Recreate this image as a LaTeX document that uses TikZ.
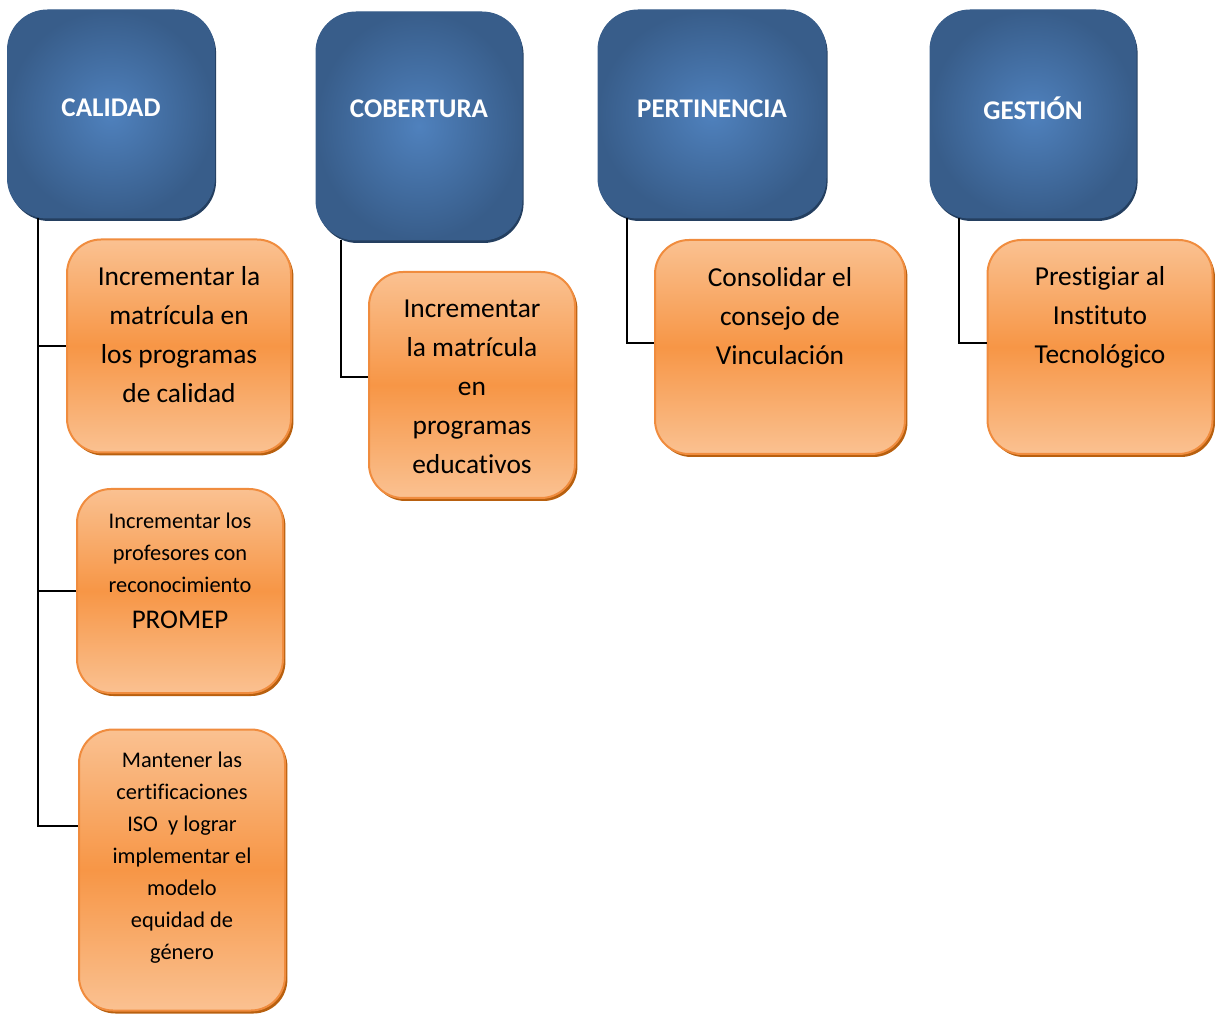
\documentclass[tikz,border=0pt]{standalone}
\usepackage{fontspec}
\setmainfont{Carlito}[Ligatures=NoCommon]
\usepackage{tikz}
\usetikzlibrary{shadows}

\definecolor{metain}{HTML}{4F81BD}
\definecolor{metaout}{HTML}{385D8A}
\definecolor{metashadow}{HTML}{243F60}
\definecolor{acclight}{HTML}{FAC191}
\definecolor{accmid}{HTML}{F79646}
\definecolor{accedge}{HTML}{F08C3E}
\definecolor{accshadow}{HTML}{B8600F}

\tikzset{
	meta/.style={rounded corners=20pt, draw=metaout, line width=.5pt, inner sep=0pt,
		shading=radial, inner color=metain, outer color=metaout,
		drop shadow={shadow xshift=.8pt, shadow yshift=-1.5pt, fill=metashadow, opacity=1}},
	accion/.style={rounded corners=17pt, draw=accedge, line width=1pt, inner sep=0pt,
		top color=acclight, bottom color=acclight, middle color=accmid,
		drop shadow={shadow xshift=1.2pt, shadow yshift=-1.5pt, fill=accshadow, opacity=1}},
	metatxt/.style={text=white, font=\bfseries\fontsize{13.5}{16}\selectfont},
	acctxt/.style={align=center, font=\fontsize{13.7}{19.5}\selectfont},
	acctxtsm/.style={align=center, font=\fontsize{11.2}{16}\selectfont},
	link/.style={line width=1pt},
}

\begin{document}
\begin{tikzpicture}[x=.5pt,y=-.5pt]
	\useasboundingbox (0,0) rectangle (1215,1015);
	
	% ejes
	\node[meta, minimum width=103.5pt, minimum height=104pt, label={[metatxt,yshift=3pt]center:CALIDAD}] (cal) at (111,114) {};
	\node[meta, minimum width=103pt, minimum height=114pt, label={[metatxt,yshift=8.5pt]center:COBERTURA}] (cob) at (419,126) {};
	\node[meta, minimum width=114pt, minimum height=104pt, label={[metatxt,yshift=2.5pt]center:PERTINENCIA}] (per) at (712,114) {};
	\node[meta, minimum width=103pt, minimum height=104pt, label={[metatxt,yshift=3pt]center:GESTIÓN}] (ges) at (1033,114) {};
	
	% acciones
	\node[accion, minimum width=112pt, minimum height=106.5pt,
		label={[acctxt,yshift=5.5pt]center:{Incrementar la\\matrícula en\\los programas\\de calidad}}] (matcal) at (179,346) {};
	\node[accion, minimum width=103pt, minimum height=102pt,
		label={[acctxtsm,yshift=10pt]center:{Incrementar los\\profesores con\\reconocimiento\\[2pt]{\fontsize{13.5}{16}\selectfont PROMEP}}}] (promep) at (180,591) {};
	\node[accion, minimum width=103pt, minimum height=140.5pt,
		label={[acctxtsm,yshift=6pt]center:{Mantener las\\certificaciones\\ISO~ y lograr\\implementar el\\modelo\\equidad de\\género}}] (iso) at (182,870) {};
	\node[accion, minimum width=103pt, minimum height=113pt,
		label={[acctxt,yshift=-1pt]center:{Incrementar\\la matrícula\\en\\programas\\educativos}}] (matcob) at (472,385) {};
	\node[accion, minimum width=125pt, minimum height=107pt,
		label={[acctxt,yshift=15.5pt]center:{Consolidar el\\consejo de\\Vinculación}}] (vinc) at (780,347) {};
	\node[accion, minimum width=112.5pt, minimum height=107pt,
		label={[acctxt,yshift=15pt]center:{Prestigiar al\\Instituto\\Tecnológico}}] (prest) at (1100,347) {};
	
	% conectores
	\draw[link] ([xshift=15.5pt]cal.south west) |- ([yshift=22pt]iso.west);
	\draw[link] ([xshift=15.5pt]cal.south west) |- (matcal.west);
	\draw[link] ([xshift=15.5pt]cal.south west) |- (promep.west);
	\draw[link] ([xshift=12.5pt]cob.south west) |- ([yshift=4pt]matcob.west);
	\draw[link] ([xshift=14.5pt]per.south west) |- ([yshift=2pt]vinc.west);
	\draw[link] ([xshift=14.5pt]ges.south west) |- ([yshift=2pt]prest.west);
	
\end{tikzpicture}
\end{document}
